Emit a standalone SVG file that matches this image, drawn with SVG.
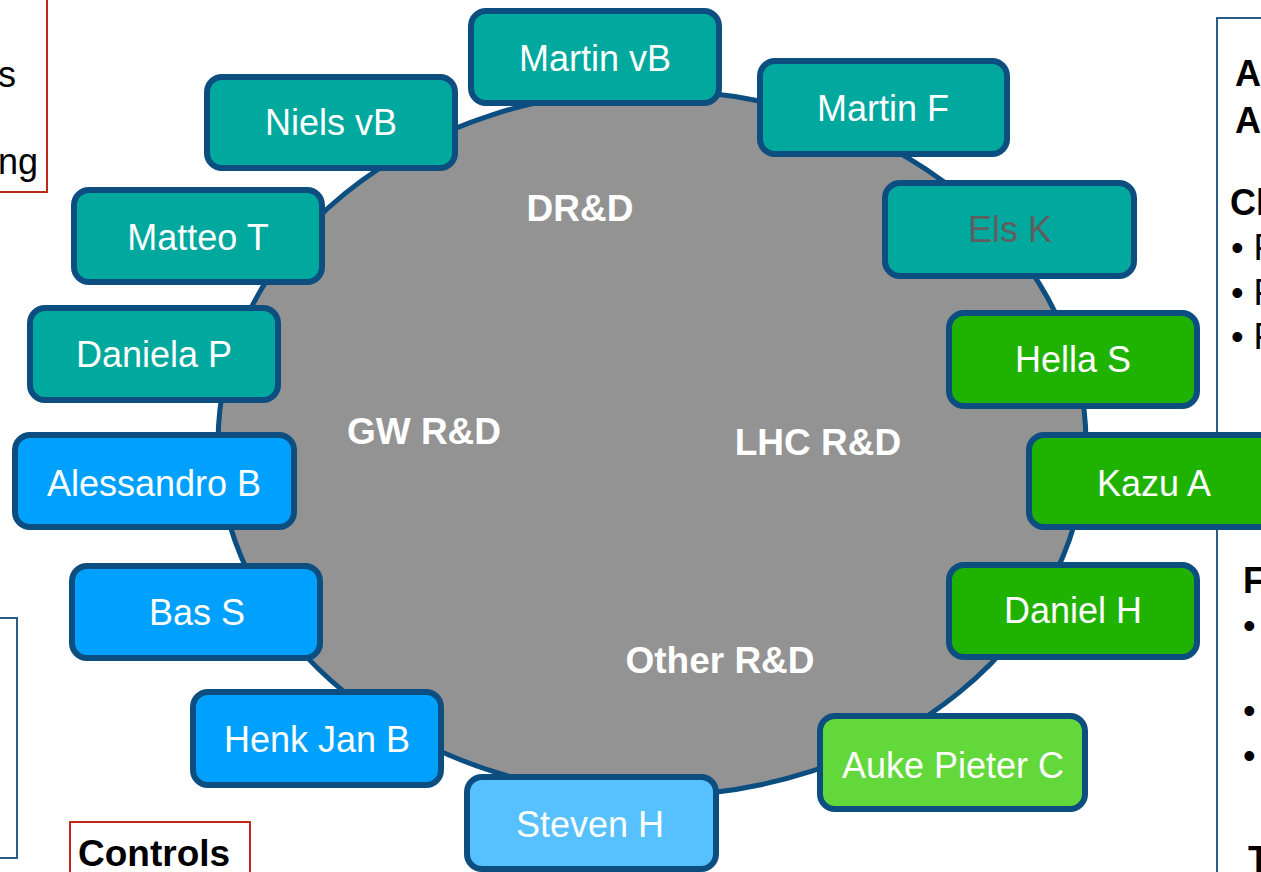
<svg xmlns="http://www.w3.org/2000/svg" width="1261" height="872" viewBox="0 0 1261 872">
<style>
.node rect{stroke:#0d4e80;stroke-width:6}
.teal rect{fill:#00a89e}
.green rect{fill:#1fb200}
.blue rect{fill:#00a1fe}
.lgreen rect{fill:#63d83b}
.lblue rect{fill:#56c1fe}
.node text{font-family:"Liberation Sans",Arial,sans-serif;font-size:36px;fill:#fff;text-anchor:middle}
.grp{font-family:"Liberation Sans",Arial,sans-serif;font-size:37px;font-weight:bold;fill:#fff;text-anchor:middle}
.side{font-family:"Liberation Sans",Arial,sans-serif;font-size:36px;fill:#000}
.b{font-weight:bold}
</style>
<rect width="1261" height="872" fill="#fff"/>
<g id="side-panels">
<rect x="-10" y="-10" width="57" height="202" fill="none" stroke="#c0281c" stroke-width="2"/>
<text class="side" x="16" y="87" text-anchor="end">s</text>
<text class="side" x="38" y="174" text-anchor="end">ng</text>
<rect x="-10" y="618" width="27" height="240" fill="none" stroke="#2a5d8c" stroke-width="2"/>
<rect x="70" y="822" width="180" height="70" fill="none" stroke="#c0281c" stroke-width="2"/>
<text class="side b" x="78" y="866" style="font-size:37px">Controls</text>
<rect x="1217" y="18" width="60" height="880" fill="none" stroke="#2a5d8c" stroke-width="2"/>
<text class="side b" x="1235" y="86">A</text>
<text class="side b" x="1235" y="133">A</text>
<text class="side b" x="1230" y="215">Cl</text>
<text class="side" x="1231" y="260">• F</text>
<text class="side" x="1231" y="305">• F</text>
<text class="side" x="1231" y="349">• F</text>
<text class="side b" x="1243" y="593">F</text>
<text class="side" x="1243" y="638">•</text>
<text class="side" x="1243" y="723">•</text>
<text class="side" x="1243" y="768">•</text>
<text class="side b" x="1248" y="872">T</text>
</g>
<g id="connectors">
<ellipse cx="652" cy="443" rx="434" ry="353" fill="#939393" stroke="#0d4e80" stroke-width="5"/>
</g>
<g id="groups">
<text class="grp" x="580" y="221">DR&amp;D</text>
<text class="grp" x="424" y="444">GW R&amp;D</text>
<text class="grp" x="818" y="455">LHC R&amp;D</text>
<text class="grp" x="720" y="673">Other R&amp;D</text>
</g>
<g id="n-martinvb" class="node teal"><rect x="471" y="11" width="248" height="92" rx="15"/><text x="595" y="71">Martin vB</text></g>
<g id="n-martinf" class="node teal"><rect x="760" y="61" width="247" height="93" rx="15"/><text x="883" y="121">Martin F</text></g>
<g id="n-nielsvb" class="node teal"><rect x="207" y="77" width="248" height="91" rx="15"/><text x="331" y="135">Niels vB</text></g>
<g id="n-matteot" class="node teal"><rect x="74" y="190" width="248" height="92" rx="15"/><text x="198" y="250">Matteo T</text></g>
<g id="n-elsk" class="node teal"><rect x="885" y="183" width="249" height="93" rx="15"/><text x="1010" y="242" style="fill:#5f5f5f">Els K</text></g>
<g id="n-danielap" class="node teal"><rect x="30" y="308" width="248" height="92" rx="15"/><text x="154" y="367">Daniela P</text></g>
<g id="n-hellas" class="node green"><rect x="949" y="313" width="248" height="93" rx="15"/><text x="1073" y="372">Hella S</text></g>
<g id="n-alessandrob" class="node blue"><rect x="15" y="435" width="279" height="92" rx="15"/><text x="154" y="496">Alessandro B</text></g>
<g id="n-kazua" class="node green"><rect x="1029" y="435" width="248" height="92" rx="15"/><text x="1154" y="496">Kazu A</text></g>
<g id="n-bass" class="node blue"><rect x="72" y="566" width="248" height="92" rx="15"/><text x="197" y="625">Bas S</text></g>
<g id="n-danielh" class="node green"><rect x="949" y="565" width="248" height="92" rx="15"/><text x="1073" y="623">Daniel H</text></g>
<g id="n-henkjanb" class="node blue"><rect x="193" y="692" width="248" height="93" rx="15"/><text x="317" y="752">Henk Jan B</text></g>
<g id="n-aukepieterc" class="node lgreen"><rect x="820" y="716" width="265" height="93" rx="15"/><text x="953" y="778">Auke Pieter C</text></g>
<g id="n-stevenh" class="node lblue"><rect x="467" y="777" width="249" height="92" rx="15"/><text x="590" y="837">Steven H</text></g>
</svg>
